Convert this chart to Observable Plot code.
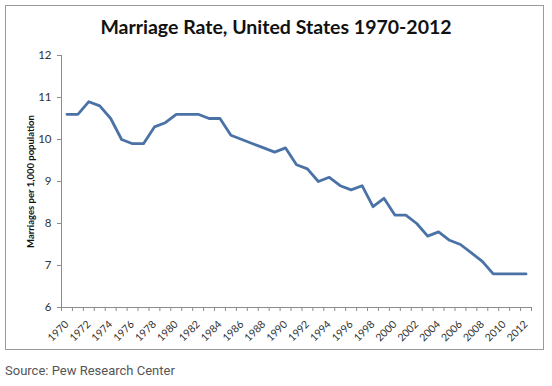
<!DOCTYPE html>
<html>
<head>
<meta charset="utf-8">
<script src="https://cdn.jsdelivr.net/npm/d3@7"></script>
<script src="https://cdn.jsdelivr.net/npm/@observablehq/plot@0.6"></script>
<style>
  html, body { margin: 0; padding: 0; background: #fff; }
  #wrap { position: relative; width: 552px; height: 386px; overflow: hidden; }
  #frame { position: absolute; left: 5px; top: 5px; width: 539px; height: 345px; border: 1px solid #9a9a9a; box-sizing: border-box; }
  #chart { position: absolute; left: 0; top: 0; }
  #title { position: absolute; left: 0; width: 552px; top: 15px; text-align: center; font: bold 19.5px Lato, "Open Sans", sans-serif; color: #111; }
  #source { position: absolute; left: 5px; top: 363px; font: 13px Roboto, "Liberation Sans", sans-serif; color: #555; }
</style>
</head>
<body>
<div id="wrap">
  <div id="frame"></div>
  <div id="chart"></div>
  <div id="title">Marriage Rate, United States 1970-2012</div>
  <div id="source">Source: Pew Research Center</div>
</div>
<script>
const years = [1970,1971,1972,1973,1974,1975,1976,1977,1978,1979,1980,1981,1982,1983,1984,1985,1986,1987,1988,1989,1990,1991,1992,1993,1994,1995,1996,1997,1998,1999,2000,2001,2002,2003,2004,2005,2006,2007,2008,2009,2010,2011,2012];
const rates = [10.6,10.6,10.9,10.8,10.5,10.0,9.9,9.9,10.3,10.4,10.6,10.6,10.6,10.5,10.5,10.1,10.0,9.9,9.8,9.7,9.8,9.4,9.3,9.0,9.1,8.9,8.8,8.9,8.4,8.6,8.2,8.2,8.0,7.7,7.8,7.6,7.5,7.3,7.1,6.8,6.8,6.8,6.8];
const xTickLabels = [1970,1972,1974,1976,1978,1980,1982,1984,1986,1988,1990,1992,1994,1996,1998,2000,2002,2004,2006,2008,2010,2012];
const yTicks = [6,7,8,9,10,11,12];
const yLabel = "Marriages per 1,000 population";

const data = years.map((y, i) => ({year: y, rate: rates[i]}));
const catEdges = years.map(y => y - 0.5).concat([years[years.length - 1] + 0.5]);

const chart = Plot.plot({
  width: 552,
  height: 386,
  marginLeft: 61,
  marginRight: 21,
  marginTop: 55,
  marginBottom: 79,
  style: {fontFamily: "Lato, 'Open Sans', sans-serif", color: "#333", background: "transparent"},
  x: {type: "linear", domain: [1969.5, 2012.5]},
  y: {domain: [6, 12]},
  marks: [
    Plot.ruleX([1969.5], {y1: 6, y2: 12, stroke: "#8c8c8c"}),
    Plot.ruleY([6], {x1: 1969.5, x2: 2012.5, stroke: "#8c8c8c"}),
    Plot.axisY({ticks: yTicks, tickSize: 4, tickPadding: 6, tickFormat: d => String(d), stroke: "#8c8c8c", fontSize: 11.5, fill: "#333", label: null}),
    Plot.axisX({ticks: catEdges, tickSize: 4, tickFormat: () => "", stroke: "#8c8c8c", label: null}),
    Plot.axisX({ticks: xTickLabels, tickSize: 0, tickPadding: 15, tickRotate: -45, tickFormat: d => String(d), fontSize: 10.5, fill: "#333", label: null}),
    Plot.line(data, {x: "year", y: "rate", stroke: "#4a72a6", strokeWidth: 2.8, strokeLinejoin: "round"}),
    Plot.text([yLabel], {frameAnchor: "left", textAnchor: "middle", dx: -31, rotate: -90, fontWeight: "bold", fontSize: 9.5, fill: "#111"})
  ]
});
document.getElementById("chart").appendChild(chart);
</script>
</body>
</html>
